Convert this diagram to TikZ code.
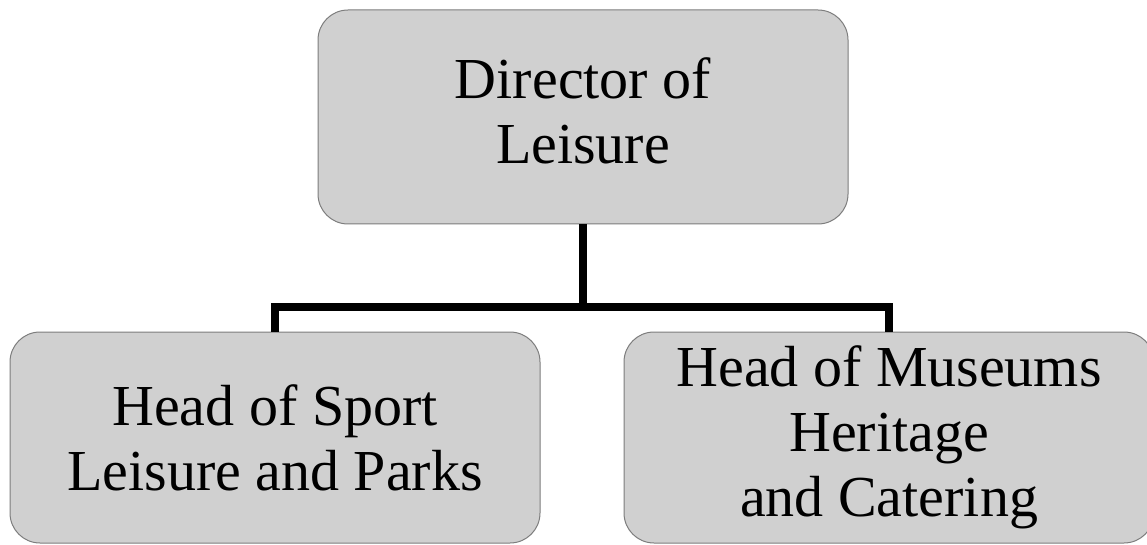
\documentclass[tikz,border=0pt]{standalone}
\usepackage{fontspec}
\setmainfont{Liberation Serif}
\definecolor{boxgray}{RGB}{208,208,208}
\definecolor{edgegray}{RGB}{125,125,125}
\begin{document}
\begin{tikzpicture}[x=1pt,y=-1pt]
 \tikzset{post/.style={draw=edgegray, line width=1pt, fill=boxgray, rounded corners=30pt,
   minimum width=530pt, align=center, font=\fontsize{58}{65}\selectfont}}
 \tikzset{link/.style={line width=8pt}}
  \useasboundingbox (0,0) rectangle (1147,545);
  \node[post, minimum height=214pt] (director) at (583,117) {Director of\\Leisure\vphantom{p}};
  \node[post, minimum height=211pt] (sport) at (275,437.5) {Head of Sport\\Leisure and Parks};
  \node[post, minimum height=211pt] (museums) at (889,437.5) {Head of Museums\\Heritage\\and Catering};
  \coordinate (split) at (583,307);
  \draw[link] (director.south) -- (split);
  \draw[link] (sport.north) |- (split) -| (museums.north);
\end{tikzpicture}
\end{document}
